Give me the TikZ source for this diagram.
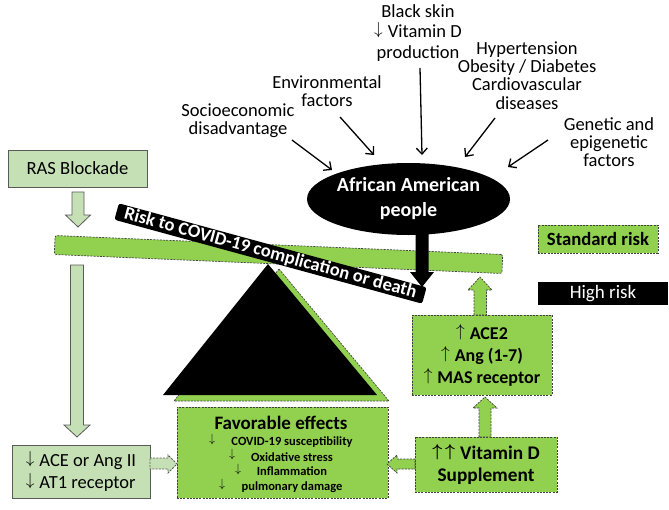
\documentclass[tikz,border=0pt]{standalone}
\usepackage{bm}
\usepackage{fontspec}
\setmainfont{Carlito}
\usetikzlibrary{shapes.geometric,arrows.meta}
\definecolor{lgreen}{HTML}{C5E0B4}
\definecolor{ggreen}{HTML}{92D050}
\definecolor{edgegray}{HTML}{5A5A5A}
\newcommand{\arrsym}[3]{\raisebox{#2}{\fontsize{#1}{#1}\selectfont$#3$}}
\newcommand{\dnarr}{\arrsym{16}{3.1pt}{\downarrow}\hspace{5pt}}
\newcommand{\uparr}{\arrsym{16}{3.1pt}{\uparrow}\hspace{5pt}}
\newcommand{\upbig}{\arrsym{17.5}{3.4pt}{\bm{\uparrow}}}
\newcommand{\dnsmall}{\arrsym{12.5}{2.4pt}{\downarrow}}
\begin{document}
\begin{tikzpicture}[x=1pt,y=-1pt,
  lbox/.style={draw=edgegray, line width=0.8pt, fill=lgreen},
  gbox/.style={draw=black!75, dash pattern=on 2pt off 1.2pt, line width=0.7pt, fill=ggreen},
  txt/.style={align=center, inner sep=0pt, font=\fontsize{18.5}{18.3}\selectfont},
  pointer/.style={-{Straight Barb[length=6pt,width=11pt]}, line width=1.3pt}
]
\useasboundingbox (0,0) rectangle (669,509);

% beam
\node[gbox, rounded corners=2pt, minimum width=448, minimum height=19, rotate=-2.43, inner sep=0] (beam) at (278.5,254.5) {};

% fulcrum
\draw[gbox] (279,269) -- (389,401) -- (174,401) -- cycle;
\fill[black] (268,264) -- (377,395) -- (163,395) -- cycle;

% RAS blockade side
\node[lbox, minimum width=139, minimum height=37, inner sep=0, font=\fontsize{18.6}{20}\selectfont] (ras) at (77.5,168.5) {RAS Blockade};
\draw[lbox] (72,192) -- (84,192) -- (84,215) -- (90.5,215) -- (78,227) -- (65.5,215) -- (72,215) -- cycle;
\draw[lbox] (70.5,265) -- (83.5,265) -- (83.5,425) -- (90,425) -- (77,437) -- (64,425) -- (70.5,425) -- cycle;

\node[lbox, minimum width=138, minimum height=53, inner sep=0, align=left, font=\fontsize{18.5}{22}\selectfont] (ace) at (81,471.5) {\dnarr ACE or Ang II\\\dnarr AT1 receptor};

% favorable effects
\node[gbox, minimum width=211, minimum height=91, inner sep=0] (fav) at (282.5,452.5) {};
\node[inner sep=0, font=\bfseries\fontsize{19}{20}\selectfont] (favt) at (281,423) {Favorable effects};
\begin{scope}[every node/.style={inner sep=0, font=\bfseries\fontsize{12.5}{13}\selectfont}]
\node (f1) at (292,442) {COVID-19 susceptibility};
\node (f2) at (292,457) {Oxidative stress};
\node (f3) at (292,471.5) {Inflammation};
\node (f4) at (292,487) {pulmonary damage};
\node (a1) at (212,440) {\dnsmall};
\node (a2) at (232,455) {\dnsmall};
\node (a3) at (238,469.5) {\dnsmall};
\node (a4) at (222,485) {\dnsmall};
\end{scope}

% arrow ACE -> favorable
\draw[lbox, dash pattern=on 2pt off 1.2pt] (150,458) -- (168,458) -- (168,455) -- (177,464) -- (168,473) -- (168,469) -- (150,469) -- cycle;

% vitamin D
\node[gbox, minimum width=142, minimum height=55, inner sep=0, align=center, font=\bfseries\fontsize{19.3}{22}\selectfont] (vit) at (486,464.5) {\upbig\hspace{3pt}\upbig\hspace{5pt}Vitamin D\\Supplement};
\draw[gbox] (415,459) -- (397,459) -- (397,455) -- (387,464) -- (397,473) -- (397,469) -- (415,469) -- cycle;
\draw[gbox] (479,437) -- (479,408) -- (473,408) -- (485,397) -- (497,408) -- (491,408) -- (491,437) -- cycle;

% ACE2
\node[gbox, minimum width=140, minimum height=80, inner sep=0, align=center, font=\bfseries\fontsize{18}{22}\selectfont] (ace2) at (482,355) {\uparr ACE2\\\uparr Ang (1-7)\\\uparr MAS receptor};
\draw[gbox] (474,315) -- (474,290) -- (468,290) -- (480,277) -- (492,290) -- (486.5,290) -- (486.5,315) -- cycle;

% legend
\node[gbox, minimum width=120, minimum height=28, inner sep=0, font=\bfseries\fontsize{18.7}{20}\selectfont] (std) at (598,239) {Standard risk};
\node[fill=black, text=white, minimum width=130, minimum height=23, inner sep=0, font=\fontsize{19}{20}\selectfont] (high) at (603,293.5) {High risk};

% African American
\node[ellipse, fill=black, text=white, minimum width=203, minimum height=72, inner sep=0, align=center, font=\bfseries\fontsize{20}{25}\selectfont] (aa) at (408.5,199) {African American\\people};
\fill[black] (415.5,225) -- (428.5,225) -- (428.5,272) -- (434,272) -- (422,287) -- (410,272) -- (415.5,272) -- cycle;

% banner
\node[fill=black, rounded corners=2.5pt, rotate=-15.26, minimum width=319, minimum height=17, inner sep=0, text=white, font=\bfseries\fontsize{18.5}{18}\selectfont] (risk) at (270.5,253.5) {Risk to COVID-19 complication or death};

% top factors
\node[txt, font=\fontsize{18.5}{20.5}\selectfont] (bs) at (418,33) {Black skin\\\dnarr Vitamin D\\production};
\node[txt] (hy) at (527,75.5) {Hypertension\\Obesity / Diabetes\\Cardiovascular\\diseases};
\node[txt] (env) at (327,91) {Environmental\\factors};
\node[txt] (soc) at (238,121) {Socioeconomic\\disadvantage};
\node[txt] (gen) at (609,142) {Genetic and\\epigenetic\\factors};

\coordinate (s1) at (292,140); \coordinate (e1) at (332,170);
\coordinate (s2) at (340,117); \coordinate (e2) at (374,155);
\coordinate (s3) at (420,68);  \coordinate (e3) at (422,155);
\coordinate (s4) at (495,118); \coordinate (e4) at (465,157);
\coordinate (s5) at (548,140); \coordinate (e5) at (508,167);
\foreach \i in {1,...,5} \draw[pointer] (s\i) -- (e\i);
\end{tikzpicture}
\end{document}
